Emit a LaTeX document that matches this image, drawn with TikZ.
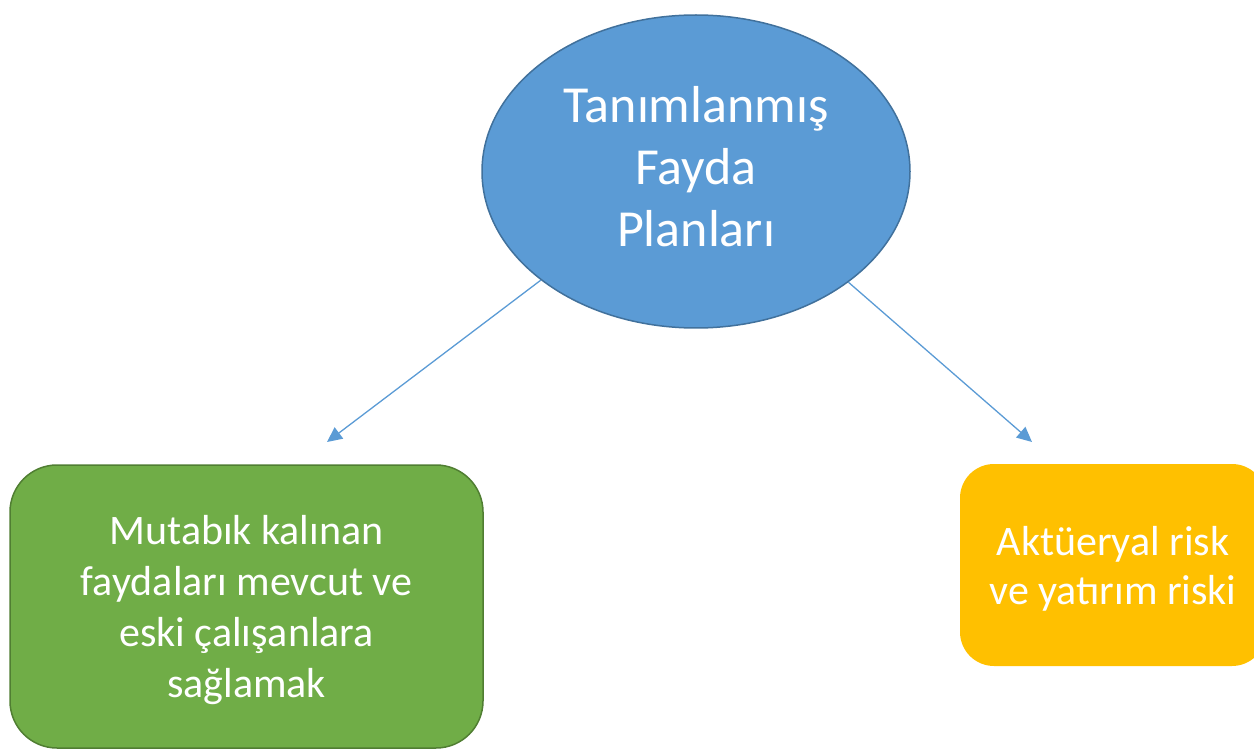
\documentclass[tikz,border=0pt]{standalone}
\usepackage{fontspec}
\setmainfont{Carlito}
\usetikzlibrary{arrows.meta,shapes.geometric}
\definecolor{ellfill}{HTML}{5B9BD5}
\definecolor{elldraw}{HTML}{41719C}
\definecolor{grnfill}{HTML}{70AD47}
\definecolor{grndraw}{HTML}{507E32}
\definecolor{orgfill}{HTML}{FFC000}
\tikzset{
  ellnode/.style={ellipse, fill=ellfill, draw=elldraw, line width=1.5pt, inner sep=0pt,
    minimum width=428pt, minimum height=313pt},
  elltext/.style={text=white, align=center, font=\fontsize{52}{62}\selectfont},
  boxtext/.style={text=white, align=center, font=\fontsize{42}{51}\selectfont},
  conn/.style={draw=ellfill, line width=1.3pt, -{Triangle[length=15pt,width=14pt]}}
}
\begin{document}
\begin{tikzpicture}[x=1pt,y=-1pt]
\useasboundingbox (0,0) rectangle (1254,751);
\node[ellnode] (ell) at (696,171.5) {};
\node[elltext] (title) at (696,167) {Tanımlanmış\\Fayda\\Planları};
\draw[fill=grnfill, draw=grndraw, line width=1.5pt, rounded corners=47pt] (10,465) rectangle (483,748);
\node[boxtext] (green) at (246.5,610) {Mutabık kalınan\\faydaları mevcut ve\\eski çalışanlara\\sağlamak};
\fill[orgfill, rounded corners=34pt] (960,464) rectangle (1266,666);
\node[boxtext, font=\fontsize{42}{49}\selectfont] (orange) at (1113,569) {Aktüeryal risk\\ve yatırım riski};
\coordinate (lend) at (327,442);
\coordinate (rend) at (1032,442);
\draw[conn] (ell.215.8) -- (lend);
\draw[conn] (ell.324.2) -- (rend);
\end{tikzpicture}
\end{document}
